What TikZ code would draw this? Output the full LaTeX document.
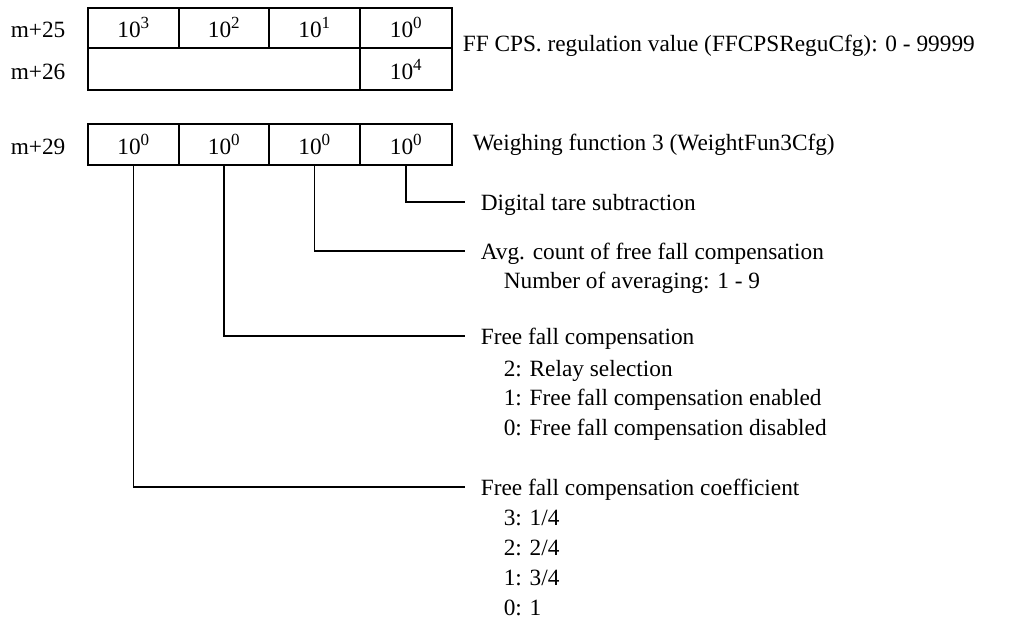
\documentclass[tikz,border=0pt]{standalone}
\usepackage{fontspec}
\setmainfont{Liberation Serif}
\newcommand\mysup[1]{\raisebox{9pt}{\fontsize{17}{17}\selectfont #1}}
\begin{document}
\begin{tikzpicture}[x=1pt,y=-1pt, line width=1.6pt,
  every node/.style={font=\fontsize{23.3}{28}\selectfont, inner sep=0pt},
  cellA/.style={draw, anchor=north west, minimum height=40pt, text height=30pt, text depth=10pt},
  cellB/.style={draw, anchor=north west, minimum height=42pt, text height=32pt, text depth=10pt},
  cellC/.style={draw, anchor=north west, minimum height=41pt, text height=31pt, text depth=10pt},
  lab/.style={anchor=base west},
  clab/.style={anchor=west, text height=17pt, text depth=0pt},
]
\useasboundingbox (0,0) rectangle (1025,621);
% register labels
\node[lab] (r25) at (10,37) {m+25};
\node[lab] (r26) at (10,79) {m+26};
\node[lab] (r29) at (10,154) {m+29};
% table 1
\node[cellA, minimum width=91pt] (a1) at (87,7) {10\mysup{3}};
\node[cellA, minimum width=90pt] (a2) at (178,7) {10\mysup{2}};
\node[cellA, minimum width=91pt] (a3) at (268,7) {10\mysup{1}};
\node[cellA, minimum width=92pt] (a4) at (359,7) {10\mysup{0}};
\node[cellB, minimum width=272pt] (b1) at (87,47) {};
\node[cellB, minimum width=92pt] (b4) at (359,47) {10\mysup{4}};
\node[lab] (ff) at (462,51) {FF CPS. regulation value (FFCPSReguCfg): 0 - 99999};
% table 2
\node[cellC, minimum width=91pt] (w1) at (87,123) {10\mysup{0}};
\node[cellC, minimum width=90pt] (w2) at (178,123) {10\mysup{0}};
\node[cellC, minimum width=91pt] (w3) at (268,123) {10\mysup{0}};
\node[cellC, minimum width=92pt] (w4) at (359,123) {10\mysup{0}};
\node[lab] (wf) at (472,150) {Weighing function 3 (WeightFun3Cfg)};
% descriptions
\node[clab] (dig) at (480,202) {Digital tare subtraction};
\node[clab] (avg) at (480,251) {Avg. count of free fall compensation};
\node[lab] (avg1) at (503,288.5) {Number of averaging: 1 - 9};
\node[clab] (ffc) at (480,336) {Free fall compensation};
\node[lab] (ffc2) at (503,376.5) {2: Relay selection};
\node[lab] (ffc1) at (503,405.5) {1: Free fall compensation enabled};
\node[lab] (ffc0) at (503,435.5) {0: Free fall compensation disabled};
\node[clab] (coef) at (480,487) {Free fall compensation coefficient};
\node[lab] (coef3) at (503,525.5) {3: 1/4};
\node[lab] (coef2) at (503,555.5) {2: 2/4};
\node[lab] (coef1) at (503,585.5) {1: 3/4};
\node[lab] (coef0) at (503,615.5) {0: 1};
% connectors
\draw (w4.south) |- ([xshift=-15pt]dig.west);
\draw (w3.south) |- ([xshift=-15pt]avg.west);
\draw (w2.south) |- ([xshift=-15pt]ffc.west);
\draw (w1.south) |- ([xshift=-15pt]coef.west);
\end{tikzpicture}
\end{document}
